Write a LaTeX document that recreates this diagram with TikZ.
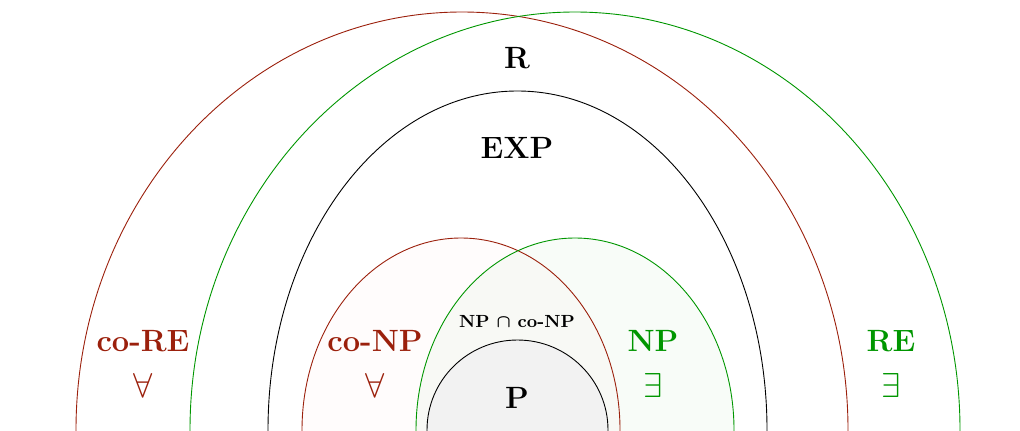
\documentclass[tikz,border=0pt]{standalone}
\usepackage{amssymb}
\usepackage{bm}
\definecolor{cred}{RGB}{155,32,12}
\definecolor{cgreen}{RGB}{0,150,0}
\begin{document}
\begin{tikzpicture}[x=0.5pt,y=0.5pt,
  setline/.style={line width=0.45pt},
  lab/.style={font=\fontsize{15.4}{18}\selectfont\bfseries, inner sep=0pt},
  sym/.style={font=\fontsize{17}{20}\selectfont, inner sep=0pt}]
\useasboundingbox (0,0) rectangle (1020,430);
\begin{scope}
\clip (0,0) rectangle (1020,430);
% fills
\fill[red!70!pink, fill opacity=0.015] (461,0) ellipse [x radius=159, y radius=192];
\fill[cgreen, fill opacity=0.028] (575,0) ellipse [x radius=159, y radius=192];
\fill[black!5] (517.5,0) ellipse [x radius=90.5, y radius=90];
% outlines
\draw[setline, cred] (462,0) ellipse [x radius=386, y radius=418];
\draw[setline, cgreen] (575,0) ellipse [x radius=385, y radius=418];
\draw[setline, black] (517.5,0) ellipse [x radius=249.5, y radius=339];
\draw[setline, cred] (461,0) ellipse [x radius=159, y radius=192];
\draw[setline, cgreen] (575,0) ellipse [x radius=159, y radius=192];
\draw[setline, black] (517.5,0) ellipse [x radius=90.5, y radius=90];
\end{scope}
% labels
\node[lab] (R) at (517,372) {R};
\node[lab] (EXP) at (517,282) {EXP};
\node[lab, text=cred] (coRE) at (143,89) {co-RE};
\node[sym, text=cred] (coREq) at (143,45) {$\forall$};
\node[lab, text=cred] (coNP) at (375,89) {co-NP};
\node[sym, text=cred] (coNPq) at (375,45) {$\forall$};
\node[lab, text=cgreen] (NP) at (653,89) {NP};
\node[sym, text=cgreen] (NPq) at (653,45) {$\exists$};
\node[lab, text=cgreen] (RE) at (891,89) {RE};
\node[sym, text=cgreen] (REq) at (891,45) {$\exists$};
\node[font=\fontsize{8.8}{10}\selectfont\bfseries, inner sep=0pt] (NPcoNP) at (517,108) {NP $\bm{\cap}$ co-NP};
\node[lab] (P) at (517,32) {P};
\end{tikzpicture}
\end{document}
